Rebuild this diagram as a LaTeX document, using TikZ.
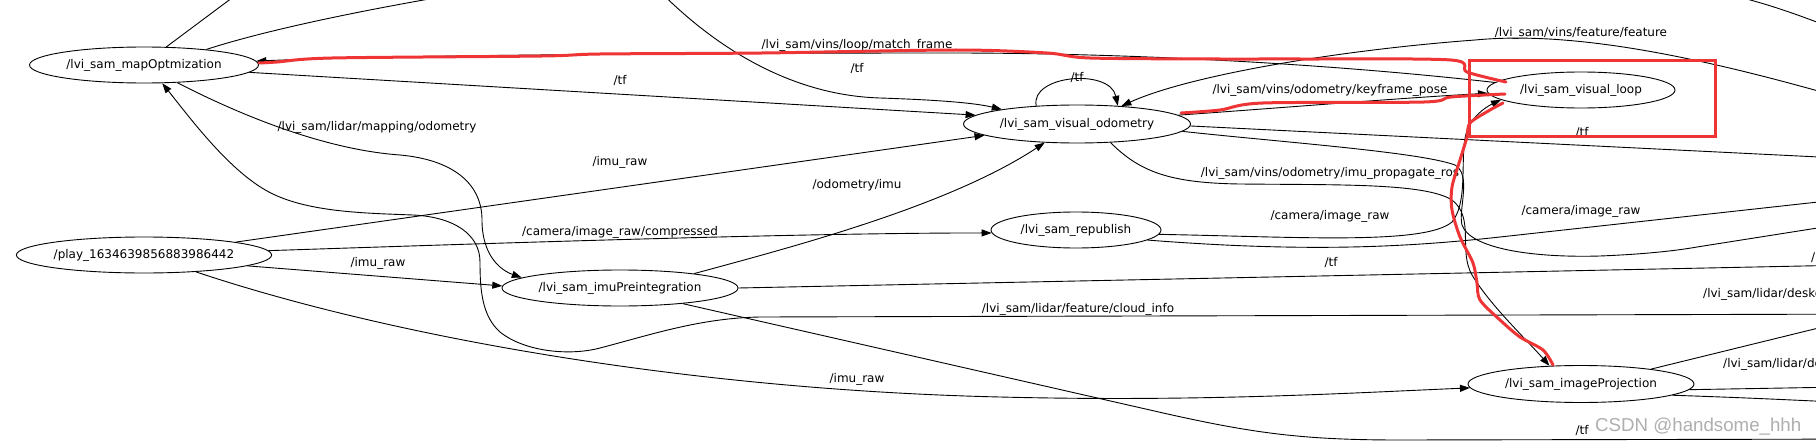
\documentclass[tikz,border=0pt]{standalone}
\usepackage{fontspec}
\setmainfont{DejaVu Sans}
\newfontfamily\marquefont{Liberation Sans}
\usetikzlibrary{shapes.geometric,arrows.meta}
\definecolor{pen}{RGB}{238,52,52}
\definecolor{filigrane}{RGB}{175,175,175}

\begin{document}
\begin{tikzpicture}[x=1pt, y=-1pt,
                  noeud/.style={ellipse, draw, line width=0.9pt, inner sep=0pt,
                                minimum height=36pt, font=\fontsize{12}{14}\selectfont},
                  sujet/.style={inner sep=0pt, font=\fontsize{12}{14}\selectfont},
                  marque/.style={inner sep=0pt, text=filigrane, font=\marquefont\fontsize{18.7}{20}\selectfont},
                  trait/.style={line width=0.9pt},
                  fl/.style={line width=0.9pt, -{Triangle[length=10pt,width=7pt]}},
                  rouge/.style={draw=pen, line width=3pt, line cap=round, line join=round}]
\useasboundingbox (0,0) rectangle (1816,444);
\fill[white] (0,0) rectangle (1816,444);
\clip (0,0) rectangle (1816,444);

% les noeuds
\node[noeud, minimum width=229pt] (map) at (144,65) {/lvi\_sam\_mapOptmization};
\node[noeud, minimum width=250pt] (play) at (144,255) {/play\_1634639856883986442};
\node[noeud, minimum width=227pt, minimum height=38pt] (vodom) at (1077,124) {/lvi\_sam\_visual\_odometry};
\node[noeud, minimum width=188pt] (vloop) at (1581,90) {/lvi\_sam\_visual\_loop};
\node[noeud, minimum width=170pt] (repub) at (1076,230) {/lvi\_sam\_republish};
\node[noeud, minimum width=236pt] (imupre) at (620,288) {/lvi\_sam\_imuPreintegration};
\node[noeud, minimum width=226pt, minimum height=37pt] (imgproj) at (1581,384) {/lvi\_sam\_imageProjection};

% bouts hors cadre
\coordinate (hautA) at (256,-20);
\coordinate (hautB) at (470,-8);
\coordinate (hautC) at (649,-20);
\coordinate (hautD) at (1690,-14);
\coordinate (droitD) at (1900,55);
\coordinate (featsrc) at (1900,115);
\coordinate (tfdst) at (1900,161);
\coordinate (camdst) at (1900,193);
\coordinate (odomdst) at (1900,215);
\coordinate (imutf) at (1900,264);
\coordinate (desk1) at (1900,308);
\coordinate (cloudsrc) at (1900,314);
\coordinate (desk2) at (1900,386);
\coordinate (desk3) at (1900,405);
\coordinate (bas) at (1900,439);

% arcs
\draw[trait] (map.39) -- (hautA);
\draw[trait] (map.14) .. controls (260,32) and (350,12) .. (hautB);
\draw[trait] (hautD) .. controls (1770,2) and (1800,15) .. (droitD);
\draw[fl] (map.-4) -- (vodom.175);
\draw[fl] (hautC) .. controls (700,35) and (780,95) .. (880,98) .. controls (940,100) and (975,103) .. (vodom.169);
\draw[fl] (vodom.156) .. controls (1030,75) and (1110,68) .. (vodom.24);
\draw[fl] (featsrc) .. controls (1720,60) and (1580,30) .. (1475,40) .. controls (1340,50) and (1190,75) .. (vodom.22);
\draw[fl] (vloop.175) .. controls (1350,66) and (1150,53) .. (950,53) .. controls (700,53) and (400,55) .. (map.2);
\draw[fl] (vodom.5) .. controls (1280,108) and (1400,98) .. (vloop.182);
\draw[trait] (vodom.-1) -- (tfdst);
\draw[trait] (vodom.-4) .. controls (1280,142) and (1420,152) .. (1455,165)
   .. controls (1472,175) and (1458,210) .. (1462,225)
   .. controls (1470,248) and (1530,258) .. (1600,256)
   .. controls (1650,254) and (1680,250) .. (1697,247) -- (odomdst);
\draw[fl] (vodom.-29) .. controls (1140,172) and (1170,183) .. (1240,184)
   .. controls (1340,185) and (1425,183) .. (1452,200)
   .. controls (1475,218) and (1458,250) .. (1472,275)
   .. controls (1490,305) and (1525,338) .. (imgproj.150);
\draw[fl] (repub.-3) .. controls (1300,237) and (1425,245) .. (1452,222)
   .. controls (1470,200) and (1458,150) .. (1468,128)
   .. controls (1476,112) and (1490,105) .. (vloop.-173);
\draw[trait] (repub.-8) .. controls (1300,252) and (1400,248) .. (1500,237) -- (camdst);
\draw[fl] (map.-28) .. controls (250,120) and (330,150) .. (400,155)
   .. controls (455,160) and (482,185) .. (482,220)
   .. controls (482,255) and (500,270) .. (imupre.174);
\draw[fl] (cloudsrc) -- (760,317) .. controls (700,318) and (650,335) .. (600,348)
   .. controls (570,356) and (525,352) .. (500,332)
   .. controls (482,316) and (480,290) .. (480,262)
   .. controls (480,235) and (455,217) .. (413,215)
   .. controls (360,213) and (300,212) .. (262,188)
   .. controls (225,165) and (190,118) .. (map.-45);
\draw[fl] (play.8) -- (vodom.-173);
\draw[fl] (play.2) .. controls (500,243) and (800,233) .. (repub.182);
\draw[fl] (play.-6) -- (imupre.179);
\draw[fl] (play.-18) .. controls (400,340) and (700,390) .. (1000,397)
   .. controls (1200,402) and (1350,393) .. (imgproj.182);
\draw[fl] (imupre.11) .. controls (800,245) and (950,205) .. (vodom.-150);
\draw[trait] (imupre.east) -- (imutf);
\draw[trait] (imupre.-14) -- (1150,410) .. controls (1250,433) and (1300,440) .. (1400,440) -- (bas);
\draw[trait] (imgproj.12) -- (desk1);
\draw[trait] (imgproj.-3) -- (desk2);
\draw[trait] (imgproj.-7) .. controls (1750,398) .. (desk3);

% etiquettes
\node[sujet] (tmapodom) at (377,127) {/lvi\_sam/lidar/mapping/odometry};
\node[sujet] (tmatch) at (857,45) {/lvi\_sam/vins/loop/match\_frame};
\node[sujet] (ttfa) at (857,68) {/tf};
\node[sujet] (ttfb) at (620,80) {/tf};
\node[sujet] (ttfc) at (1077,77) {/tf};
\node[sujet] (tkey) at (1330,90) {/lvi\_sam/vins/odometry/keyframe\_pose};
\node[sujet] (tfeat) at (1581,33) {/lvi\_sam/vins/feature/feature};
\node[sujet] (ttfd) at (1582,132) {/tf};
\node[sujet] (timua) at (620,162) {/imu\_raw};
\node[sujet] (todo) at (857,185) {/odometry/imu};
\node[sujet] (tcomp) at (620,232) {/camera/image\_raw/compressed};
\node[sujet] (timub) at (378,263) {/imu\_raw};
\node[sujet] (tprop) at (1330,173) {/lvi\_sam/vins/odometry/imu\_propagate\_ros};
\node[sujet] (tcama) at (1330,216) {/camera/image\_raw};
\node[sujet] (tcamb) at (1581,211) {/camera/image\_raw};
\node[sujet] (ttfe) at (1331,262) {/tf};
\node[sujet, anchor=west] (tcut) at (1811,258) {/};
\node[sujet, anchor=west] (tdeska) at (1703,294) {/lvi\_sam/lidar/deskew/cloud\_deskewed};
\node[sujet, anchor=west] (tdeskb) at (1723,364) {/lvi\_sam/lidar/deskew/cloud\_deskewed};
\node[sujet] (tcloud) at (1078,309) {/lvi\_sam/lidar/feature/cloud\_info};
\node[sujet] (timuc) at (857,379) {/imu\_raw};
\node[sujet] (ttff) at (1582,430) {/tf};
\node[marque, anchor=west] (csdn) at (1595,427) {CSDN @handsome\_hhh};

% annotations a la main
\draw[rouge] plot[smooth, tension=0.5] coordinates {(1506,82) (1467,72) (1451,60) (1300,59)
   (1220,59) (1090,58) (1047,53) (956,50) (762,53) (600,54) (542,56) (332,58) (277,62) (259,63)};
\draw[rouge] plot[smooth, tension=0.5] coordinates {(1181,113) (1220,110) (1263,103)
   (1424,102) (1451,97) (1505,94)};
\draw[rouge] plot[smooth, tension=0.5] coordinates {(1503,103) (1490,110) (1470,123) (1467,137)
   (1460,160) (1452,187) (1452,210) (1460,237) (1473,263) (1477,283) (1480,300) (1500,320)
   (1520,337) (1543,350) (1553,365)};
\draw[rouge, line cap=butt, line join=miter] (1469,61) rectangle (1715,136);
\end{tikzpicture}
\end{document}
